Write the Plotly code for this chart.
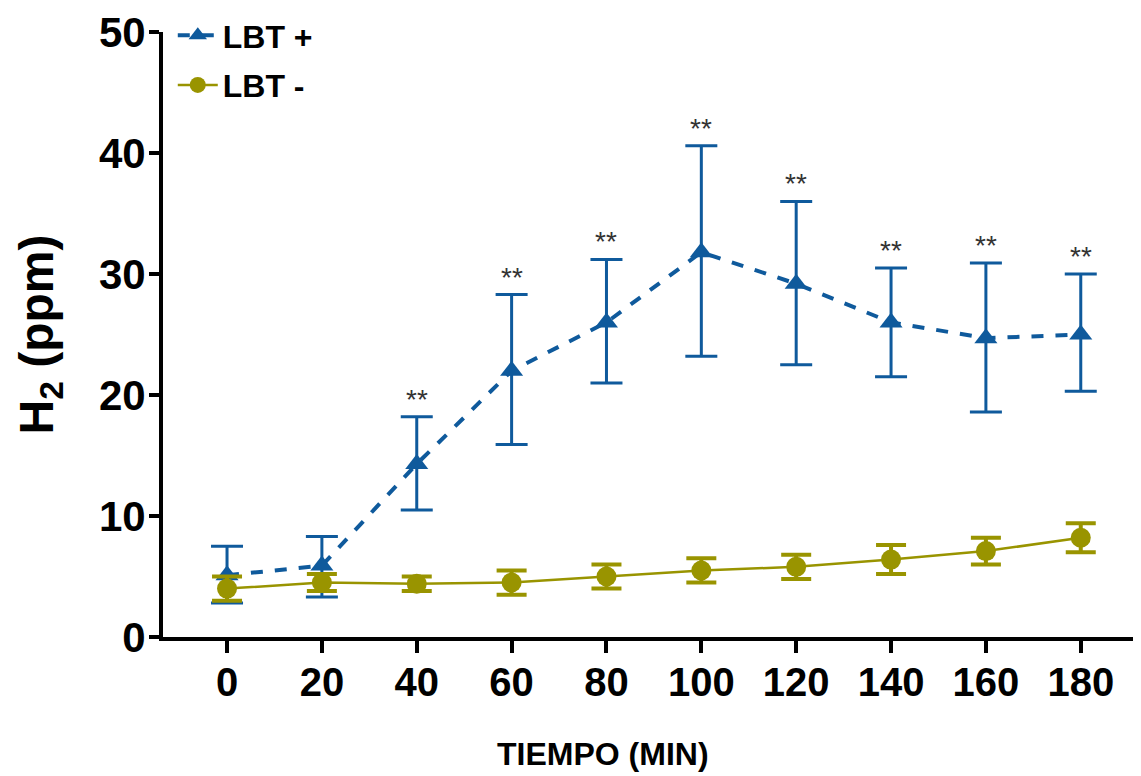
import plotly.graph_objects as go

# Data
tiempo = [0, 20, 40, 60, 80, 100, 120, 140, 160, 180]
lbt_pos = [5.1, 5.9, 14.3, 22.0, 26.0, 31.8, 29.2, 26.0, 24.7, 25.0]
lbt_pos_err_plus = [2.4, 2.4, 3.9, 6.3, 5.2, 8.8, 6.8, 4.5, 6.2, 5.0]
lbt_pos_err_minus = [2.3, 2.6, 3.8, 6.1, 5.0, 8.6, 6.7, 4.5, 6.1, 4.7]
lbt_neg = [4.0, 4.5, 4.4, 4.5, 5.0, 5.5, 5.8, 6.4, 7.1, 8.2]
lbt_neg_err = [1.0, 0.7, 0.6, 1.0, 1.0, 1.0, 1.0, 1.2, 1.1, 1.2]
signif = ["", "", "**", "**", "**", "**", "**", "**", "**", "**"]

BLUE = "#0f5a9c"
OLIVE = "#999400"
FONT = "Liberation Sans, Arial, sans-serif"

fig = go.Figure()

fig.add_trace(go.Scatter(
    x=tiempo, y=lbt_pos, name="LBT +", mode="lines+markers", legendgroup="a",
    line=dict(color=BLUE, width=4, dash="dash"),
    marker=dict(symbol="triangle-up", size=20, color=BLUE),
    error_y=dict(type="data", symmetric=False, array=lbt_pos_err_plus,
                 arrayminus=lbt_pos_err_minus, color=BLUE, thickness=3, width=16),
    cliponaxis=False,
))

fig.add_trace(go.Scatter(
    x=tiempo, y=lbt_neg, name="LBT -", mode="lines+markers", legendgroup="b",
    line=dict(color=OLIVE, width=2.5),
    marker=dict(symbol="circle", size=20, color=OLIVE),
    error_y=dict(type="data", array=lbt_neg_err, color=OLIVE, thickness=4, width=15),
    cliponaxis=False,
))

for x, y, ep, s in zip(tiempo, lbt_pos, lbt_pos_err_plus, signif):
    if s:
        fig.add_annotation(x=x, y=y + ep, text=s, showarrow=False,
                           yanchor="bottom", yshift=0,
                           font=dict(family=FONT, size=28, color="#333333"))

fig.add_annotation(xref="paper", yref="paper", x=(603 - 163) / 978, y=-118 / 610,
                   text="<b>TIEMPO (MIN)</b>", showarrow=False,
                   xanchor="center", yanchor="middle",
                   font=dict(family=FONT, size=32, color="black"))

fig.update_layout(
    width=1133, height=768,
    margin=dict(l=155, r=0, t=19, b=139),
    paper_bgcolor="white", plot_bgcolor="white",
    font=dict(family=FONT, color="black"),
    showlegend=True,
    legend=dict(x=0.01, y=1.04, xanchor="left", yanchor="top",
                font=dict(family=FONT, size=32, color="black", weight="bold"),
                bgcolor="rgba(0,0,0,0)", itemwidth=40, tracegroupgap=5),
    xaxis=dict(range=[-13.5, 192.7], tickvals=tiempo, ticktext=[str(t) for t in tiempo],
               automargin=False, ticklabeloverflow="allow",
               showline=True, linecolor="black", linewidth=4,
               ticks="outside", ticklen=12, tickwidth=4, tickcolor="black",
               showgrid=False, zeroline=False, ticklabelstandoff=-5,
               tickfont=dict(family=FONT, size=40, color="black", weight="bold")),
    yaxis=dict(range=[0, 50], tickvals=[0, 10, 20, 30, 40, 50],
               automargin=False, ticklabeloverflow="allow",
               showline=True, linecolor="black", linewidth=4,
               ticks="outside", ticklen=10, tickwidth=4, tickcolor="black",
               showgrid=False, zeroline=False, ticklabelstandoff=-5,
               title=dict(text="H<sub>2</sub> (ppm)", standoff=31,
                          font=dict(family=FONT, size=48, color="black", weight="bold")),
               tickfont=dict(family=FONT, size=42, color="black", weight="bold")),
)

fig.write_html("out.html")
